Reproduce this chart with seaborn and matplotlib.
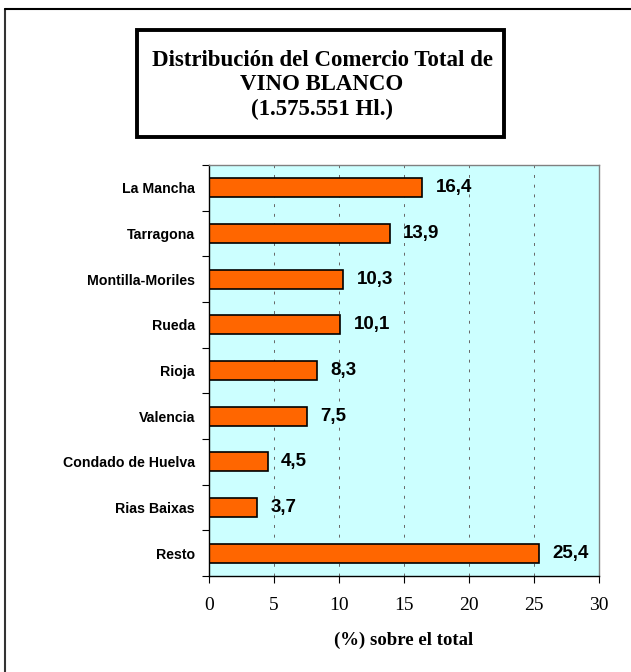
import pandas as pd
import matplotlib.pyplot as plt
import seaborn as sns
from matplotlib.lines import Line2D
from matplotlib.patches import Rectangle

regiones = ["La Mancha", "Tarragona", "Montilla-Moriles", "Rueda", "Rioja",
            "Valencia", "Condado de Huelva", "Rias Baixas", "Resto"]
porcentaje = [16.4, 13.9, 10.3, 10.1, 8.3, 7.5, 4.5, 3.7, 25.4]
etiquetas = ["16,4", "13,9", "10,3", "10,1", "8,3", "7,5", "4,5", "3,7", "25,4"]

df = pd.DataFrame({"region": regiones, "pct": porcentaje})

sns.set_style("white")
plt.rcParams.update({"text.color": "black", "xtick.color": "black",
                     "ytick.color": "black", "axes.labelcolor": "black"})

fig = plt.figure(figsize=(6.31, 6.72), dpi=100)
W, H = 631, 672
ax = fig.add_axes([209 / W, 1 - 576 / H, (599 - 209) / W, (576 - 165) / H])
ax.set_facecolor("#CCFFFF")

sns.barplot(data=df, x="pct", y="region", order=regiones, color="#FF6600",
            saturation=1, edgecolor="black", linewidth=1.2, width=0.42, ax=ax)

for i, (v, t) in enumerate(zip(porcentaje, etiquetas)):
    ax.text(v + 1.05, i, t, va="center", ha="left", fontsize=13.5,
            fontweight="bold", family="Liberation Sans")

ax.set_xlim(0, 30)
ax.set_ylim(len(regiones) - 0.5, -0.5)
ax.set_xticks(range(0, 31, 5))
ax.set_xticklabels([str(x) for x in range(0, 31, 5)], family="Liberation Serif", fontsize=14)
for x in range(5, 30, 5):
    ax.axvline(x, color="#666666", linestyle=(0, (3, 7)), linewidth=0.7, zorder=0)

ax.set_yticks(range(len(regiones)))
ax.set_yticklabels(regiones, family="Liberation Sans", fontweight="bold", fontsize=10.2)
ax.tick_params(axis="y", length=0, pad=10)
ax.set_yticks([i - 0.5 for i in range(len(regiones) + 1)], minor=True)
ax.tick_params(axis="y", which="minor", length=5, direction="out", left=True, width=0.8)
ax.tick_params(axis="x", length=5, direction="out", bottom=True, width=0.8, pad=10)

for s in ax.spines.values():
    s.set_color("#808080")
    s.set_linewidth(1)
ax.spines["left"].set_color("black")
ax.spines["bottom"].set_color("black")

ax.set_xlabel("(%) sobre el total", family="Liberation Serif", fontweight="bold",
              fontsize=13.5, labelpad=13)
ax.set_ylabel("")

# title box
fig.add_artist(Rectangle((137 / W, 1 - 137 / H), (504 - 137) / W, (137 - 30) / H,
                         transform=fig.transFigure, facecolor="white",
                         edgecolor="black", linewidth=2.8))
fig.text(322 / W, 1 - 85 / H,
         "Distribución del Comercio Total de\nVINO BLANCO\n(1.575.551 Hl.)",
         ha="center", va="center", family="Liberation Serif", fontweight="bold",
         fontsize=16.5, linespacing=1.2)

fig.add_artist(Line2D([4.5 / W, 4.5 / W], [0, 1 - 9 / H], color="#333333", linewidth=1.5,
                      transform=fig.transFigure))
fig.add_artist(Line2D([4.5 / W, 1], [1 - 9 / H, 1 - 9 / H], color="black", linewidth=1.5,
                      transform=fig.transFigure))

fig.savefig("out.png", dpi=100)
